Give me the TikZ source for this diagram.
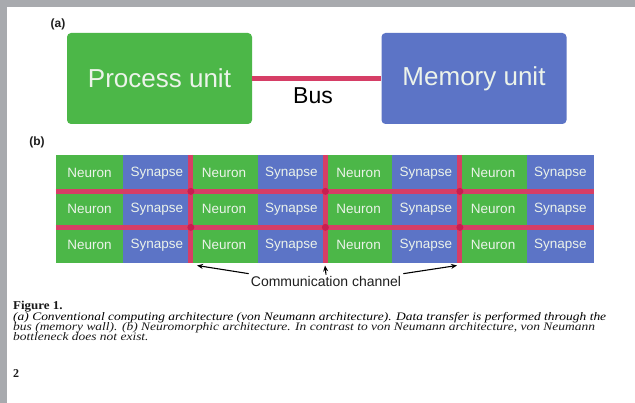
\documentclass[tikz,border=0pt]{standalone}
\usepackage{fontspec}
\usepackage{graphicx}
\newfontfamily\arial{Liberation Sans}
\newfontfamily\capserif{Liberation Serif}
\usetikzlibrary{arrows.meta}
\definecolor{pagegray}{RGB}{168,170,174}
\definecolor{cgreen}{RGB}{76,183,72}
\definecolor{cblue}{RGB}{92,116,198}
\definecolor{cred}{RGB}{214,62,102}
\definecolor{cdot}{RGB}{200,30,80}
\definecolor{ctext}{RGB}{236,243,234}
\definecolor{cdark}{RGB}{30,30,30}
\definecolor{capcol}{RGB}{25,25,25}
\newsavebox\capboxA
\newcommand\capfont{\capserif\fontsize{11.5}{13}\selectfont\itshape}
\tikzset{
  unitbox/.style={rounded corners=4pt, minimum width=185pt, minimum height=91pt, inner sep=0pt,
    text=ctext, font=\arial\fontsize{26}{30}\selectfont},
  cellbox/.style={minimum width=67.6pt, minimum height=36.3pt, inner sep=0pt,
    text=ctext, font=\arial\fontsize{13.5}{15}\selectfont},
  redline/.style={draw=cred, line width=5pt},
  reddot/.style={fill=cdot, circle, inner sep=0pt, minimum size=7pt},
  tag/.style={font=\arial\bfseries\fontsize{12}{14}\selectfont, text=cdark, inner sep=0pt},
  commarrow/.style={draw=black, line width=1.1pt, -{Stealth[length=6pt,width=5pt]}},
  capline/.style={anchor=base west, inner sep=0pt, text=capcol}
}
\begin{document}
\sbox\capboxA{\capfont (a) Conventional computing architecture (von Neumann architecture). Data transfer is performed through the}%
\pgfmathsetmacro\capsx{593/\the\wd\capboxA}%
\begin{tikzpicture}[x=1pt,y=-1pt]
\useasboundingbox (0,0) rectangle (635,403);
\fill[pagegray] (0,0) rectangle (635,403);
\fill[white] (7,7) rectangle (635,403);

% (a)
\node[tag] (taga) at (58,24) {(a)};
\node[unitbox, fill=cgreen] (proc) at (159.5,78.5) {Process unit};
\node[unitbox, fill=cblue] (mem) at (474,78.5) {Memory unit};
\draw[draw=cred, line width=4.5pt] (proc.east) -- (mem.west);
\node[font=\arial\fontsize{23}{26}\selectfont, text=black, inner sep=0pt] (bus) at (313,96) {Bus};

% (b)
\node[tag] (tagb) at (37,142) {(b)};
\foreach \r in {0,1,2}{
  \foreach \c in {0,...,7}{
    \pgfmathsetmacro\cx{56+67.25*\c+33.625}
    \pgfmathsetmacro\cy{155+36*\r+18}
    \ifodd\c
      \node[cellbox, fill=cblue] (cell-\r-\c) at (\cx,\cy) {Synapse};
    \else
      \node[cellbox, fill=cgreen] (cell-\r-\c) at (\cx,\cy) {Neuron};
    \fi
  }
}
% horizontal channels
\foreach \r in {0,1}{
  \draw[redline] ([xshift=0.3pt]cell-\r-0.south west) -- ([xshift=-0.3pt]cell-\r-7.south east);
}
% vertical channels
\foreach \c in {1,3,5}{
  \draw[redline] ([yshift=-0.2pt]cell-0-\c.north east) -- ([yshift=0.2pt]cell-2-\c.south east);
}
% junction dots
\foreach \r in {0,1}{
  \foreach \c in {1,3,5}{
    \node[reddot] (dot-\r-\c) at (cell-\r-\c.south east) {};
  }
}

% communication channel
\node[font=\arial\fontsize{14}{16}\selectfont, text=cdark, inner sep=1pt] (comm) at (326,281) {Communication channel};
\coordinate (tipL) at (197,265.5);
\coordinate (tipM) at (325,265.5);
\coordinate (tipR) at (457,265.5);
\draw[commarrow] ([xshift=-1pt,yshift=1pt]comm.north west) -- (tipL);
\draw[commarrow] (comm.north) -- (tipM);
\draw[commarrow] ([xshift=1pt,yshift=1pt]comm.north east) -- (tipR);

% caption
\node[capline] (figlabel) at (13,310) {\scalebox{1.08}[1]{\capserif\fontsize{12}{13}\selectfont\bfseries Figure 1.}};
\node[capline] (cap1) at (13,320.5) {\scalebox{\capsx}[1]{\usebox\capboxA}};
\node[capline] (cap2) at (13,330.5) {\scalebox{\capsx}[1]{\capfont bus (memory wall). (b) Neuromorphic architecture. In contrast to von Neumann architecture, von Neumann}};
\node[capline] (cap3) at (13,340.5) {\scalebox{\capsx}[1]{\capfont bottleneck does not exist.}};
\node[capline] (pagenum) at (13,378) {\capserif\fontsize{12}{13}\selectfont\bfseries 2};
\end{tikzpicture}
\end{document}
